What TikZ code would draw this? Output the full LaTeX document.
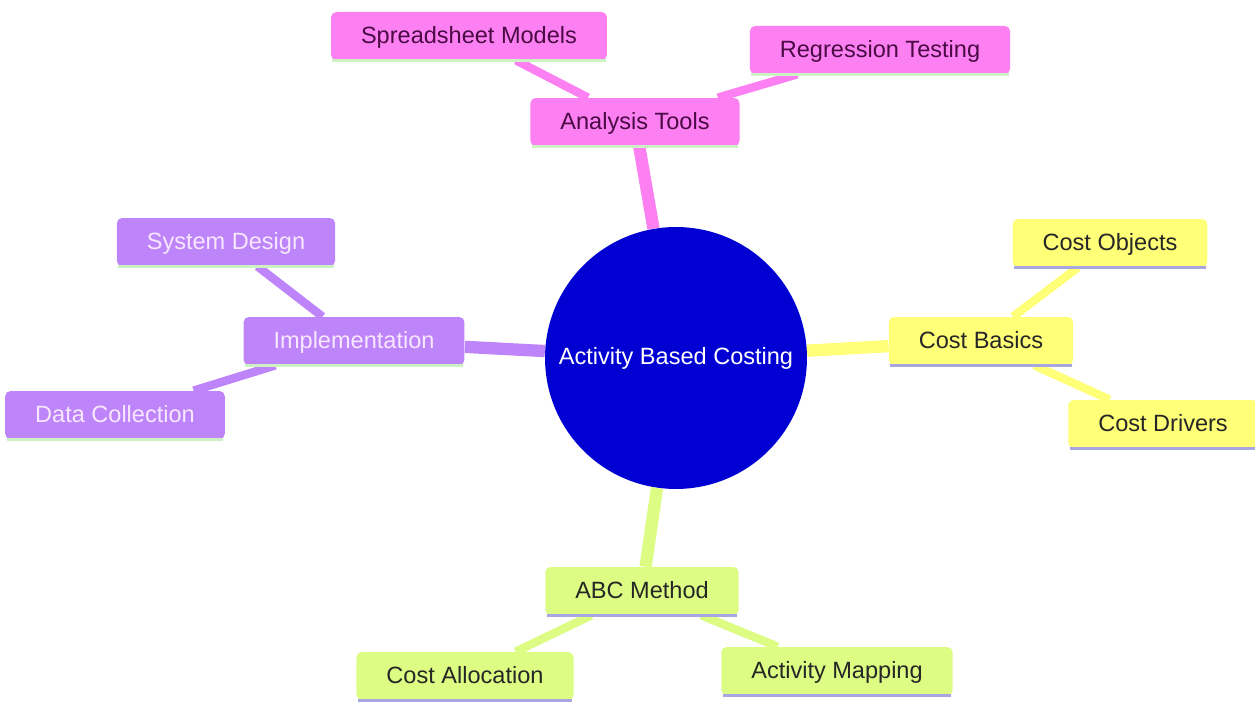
\documentclass[tikz,border=0pt]{standalone}
\usepackage{fontspec}
\setmainfont{Liberation Sans}
\usetikzlibrary{backgrounds}

\definecolor{rootblue}{HTML}{0000D2}
\definecolor{toolpink}{HTML}{FC80F2}
\definecolor{tooltext}{HTML}{4A0A44}
\definecolor{implpurple}{HTML}{BE84FA}
\definecolor{impltext}{HTML}{F8E8FF}
\definecolor{basicyellow}{HTML}{FFFF78}
\definecolor{methodgreen}{HTML}{DCFC84}
\definecolor{linegreen}{HTML}{CCF2C4}
\definecolor{linelavender}{HTML}{A8A6E2}

\tikzset{
  mmbox/.style 2 args={fill=#1, rounded corners=3pt, minimum height=0.96cm,
    inner xsep=0.6cm, text height=8.5pt, text depth=0.5pt,
    font=\fontsize{13.4}{15}\selectfont,
    append after command={([xshift=1pt]\tikzlastnode.south west)
      edge[draw=#2, line width=2pt, sharp corners] ([xshift=-1pt]\tikzlastnode.south east)}},
  toolbox/.style={mmbox={toolpink}{linegreen}, text=tooltext},
  implbox/.style={mmbox={implpurple}{linegreen}, text=impltext},
  basicbox/.style={mmbox={basicyellow}{linelavender}, text=black!85},
  methodbox/.style={mmbox={methodgreen}{linelavender}, text=black!85},
  trunk/.style={line width=7pt},
  twig/.style={line width=4.8pt}
}

\begin{document}
\begin{tikzpicture}[x=0.02cm, y=-0.02cm]
\useasboundingbox (0,0) rectangle (1255,702);

% centro
\node[circle, fill=rootblue, minimum size=5.24cm, text=white,
  font=\fontsize{13.4}{15}\selectfont] (root) at (676,358) {Activity Based Costing};

% herramientas
\node[toolbox] (tools) at (635,122) {Analysis Tools};
\node[toolbox] (sheets) at (469,36) {Spreadsheet Models};
\node[toolbox] (regress) at (880,50) {Regression Testing};

% implementacion
\node[implbox] (impl) at (354,341) {Implementation};
\node[implbox] (design) at (226,242) {System Design};
\node[implbox] (collect) at (115,415) {Data Collection};

% conceptos basicos
\node[basicbox] (basics) at (981,341) {Cost Basics};
\node[basicbox] (objects) at (1110,243) {Cost Objects};
\node[basicbox] (drivers) at (1163,424) {Cost Drivers};

% metodo ABC
\node[methodbox] (method) at (642,591) {ABC Method};
\node[methodbox] (alloc) at (465,676) {Cost Allocation};
\node[methodbox] (mapping) at (837,671) {Activity Mapping};

% ramas
\begin{scope}[on background layer]
\draw[trunk, toolpink] (root) -- (tools);
\draw[twig, toolpink] (tools) -- (sheets);
\draw[twig, toolpink] (tools) -- (regress);
\draw[trunk, implpurple] (root) -- (impl);
\draw[twig, implpurple] (impl) -- (design);
\draw[twig, implpurple] (impl) -- (collect);
\draw[trunk, basicyellow] (root) -- (basics);
\draw[twig, basicyellow] (basics) -- (objects);
\draw[twig, basicyellow] (basics) -- (drivers);
\draw[trunk, methodgreen] (root) -- (method);
\draw[twig, methodgreen] (method) -- (alloc);
\draw[twig, methodgreen] (method) -- (mapping);
\end{scope}
\end{tikzpicture}
\end{document}
